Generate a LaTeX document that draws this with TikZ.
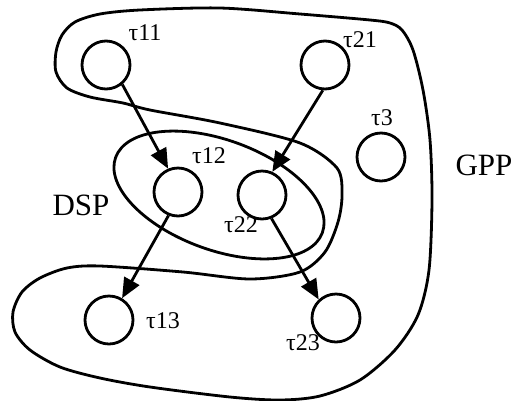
\documentclass[tikz,border=0pt]{standalone}
\usepackage{fontspec}
\setmainfont{Liberation Serif}
\usetikzlibrary{
    arrows.meta % for the triangle tips
}

\begin{document}
\begin{tikzpicture}[
    x=1pt,y=-1pt,>={Triangle[length=20pt,width=17pt]},
    task/.style   = {circle,draw,line width=2.8pt,minimum size=48pt,inner sep=0pt},
    tlabel/.style = {inner sep=0pt,font=\fontsize{24}{28}\selectfont},
    plabel/.style = {inner sep=0pt,font=\fontsize{31}{36}\selectfont},
    region/.style = {line width=2.8pt},
    dep/.style    = {->,line width=2.8pt}
]
\useasboundingbox (0,0) rectangle (513,400);

% tasks

    \node [task] (t11) at (106,65)  {};
    \node [task] (t21) at (325,65)  {};
    \node [task] (t3)  at (381,157) {};
    \node [task] (t12) at (178,192) {};
    \node [task] (t22) at (262,195) {};
    \node [task] (t13) at (109,320) {};
    \node [task] (t23) at (336,318) {};

    \node [tlabel] (l11) at (145,33)  {τ11};
    \node [tlabel] (l21) at (360,40)  {τ21};
    \node [tlabel] (l3)  at (382,118) {τ3};
    \node [tlabel] (l12) at (209,156) {τ12};
    \node [tlabel] (l22) at (241,225) {τ22};
    \node [tlabel] (l13) at (163,321) {τ13};
    \node [tlabel] (l23) at (303,343) {τ23};

% processors

    \draw [region] plot [smooth cycle,tension=0.5] coordinates {
        (62,35) (75,22) (100,14) (140,10) (220,8) (300,14) (370,20) (390,23)
        (402,30) (413,50) (423,90) (430,140) (432,200) (429,270) (418,315)
        (395,350) (360,380) (320,396) (280,400) (230,397) (150,387) (100,378)
        (60,367) (30,350) (15,332) (13,312) (22,292) (40,278) (67,268) (100,266)
        (183,272) (250,279) (300,272) (325,252) (338,222) (342,195) (337,168)
        (300,143) (220,123) (150,110) (123,103) (90,97) (67,88) (56,72) (56,52)};
    \node [plabel] (gpp) at (484,165) {GPP};

    \draw [region] (219,195) ellipse [x radius=110,y radius=55,rotate=-20];
    \node [plabel] (dsp) at (81,205) {DSP};

% dependencies

    \draw [dep] (t11.310) -- (t12.113);
    \draw [dep] (t21.265) -- (t22.66);
    \draw [dep] (t12.248) -- (t13.59);
    \draw [dep] (t22.292) -- (t23.133);

\end{tikzpicture}
\end{document}
